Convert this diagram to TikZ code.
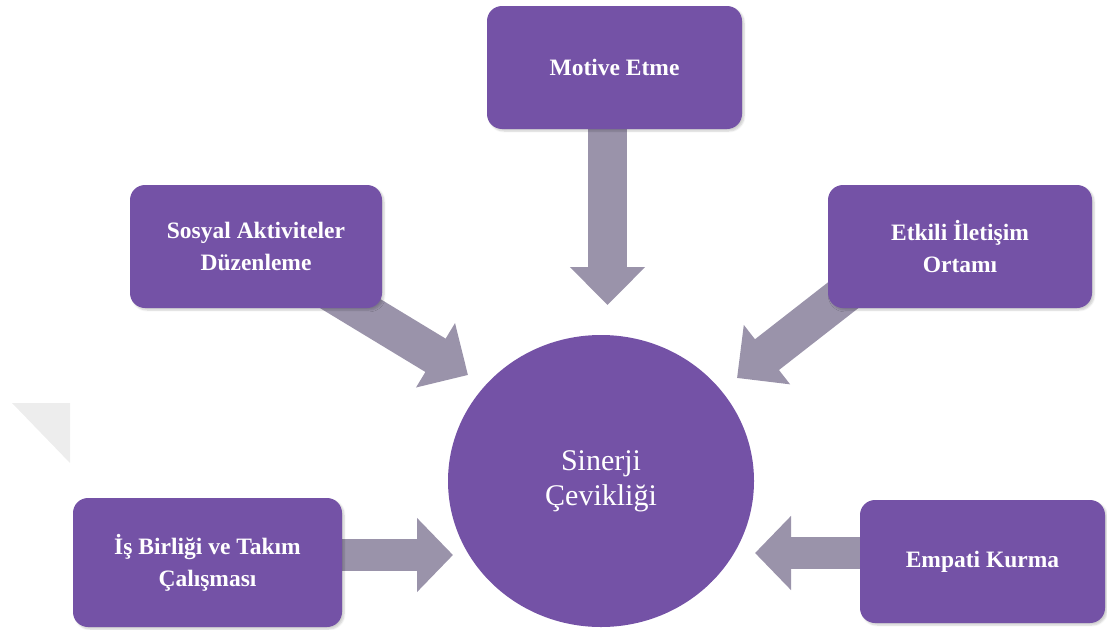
\documentclass[tikz,border=0pt]{standalone}
\usepackage{fontspec}
\setmainfont{Liberation Serif}
\usetikzlibrary{arrows.meta,shapes.geometric,shadows.blur}
\definecolor{boxpurple}{HTML}{7452A6}
\definecolor{arrowgray}{HTML}{9A93AA}
\definecolor{markgray}{HTML}{EDEDED}
\pgfdeclarelayer{background}
\pgfsetlayers{background,main}
\tikzset{
  topic/.style={fill=boxpurple, rounded corners=15pt, text=white,
    font=\bfseries\fontsize{23.5}{32}\selectfont, align=center, inner sep=0pt,
    blur shadow={shadow xshift=2pt, shadow yshift=-2pt, shadow opacity=20, shadow blur steps=6}},
  hub/.style={ellipse, fill=boxpurple, text=white,
    font=\fontsize{30}{35}\selectfont, align=center, inner sep=0pt,
    minimum width=306pt, minimum height=292pt},
  widearrow/.style={draw=arrowgray, line width=39pt, -{Triangle[length=38pt,width=73pt]}},
  flatarrow/.style={draw=arrowgray, line width=32pt, -{Triangle[length=36pt,width=72pt]}},
}
\begin{document}
\begin{tikzpicture}[x=1pt, y=-1pt]
  \useasboundingbox (0,0) rectangle (1107,629);

  % surrounding topics
  \node[topic, minimum width=255pt, minimum height=123pt] (motive) at (614.5,67.5) {Motive Etme};
  \node[topic, minimum width=252pt, minimum height=123pt] (sosyal) at (256,246.5) {Sosyal Aktiviteler\\Düzenleme};
  \node[topic, minimum width=264pt, minimum height=123pt] (etkili) at (960,246.5) {Etkili İletişim\\Ortamı};
  \node[topic, minimum width=269pt, minimum height=129pt] (isbirligi) at (207.5,562.5) {İş Birliği ve Takım\\Çalışması};
  \node[topic, minimum width=245pt, minimum height=123pt] (empati) at (982.5,561.5) {Empati Kurma};

  % central hub
  \node[hub] (sinerji) at (601,481) {Sinerji\\Çevikliği};

  % arrow tips near the hub
  \coordinate (tipM) at (607.5,305);
  \coordinate (tipS) at (468,375);
  \coordinate (tipE) at (737,378);
  \coordinate (tipI) at (453,555);
  \coordinate (tipP) at (755,553);

  \begin{pgfonlayer}{background}
    \fill[markgray] (12,403) -- (70,403) -- (70,463) -- cycle;
    \draw[widearrow] (motive.center -| tipM) -- (tipM);
    \draw[widearrow] (sosyal.center) -- (tipS);
    \draw[widearrow] ([shift={(-80,20)}]etkili.center) -- (tipE);
    \draw[flatarrow] (isbirligi.center |- tipI) -- (tipI);
    \draw[flatarrow] (empati.center |- tipP) -- (tipP);
  \end{pgfonlayer}
\end{tikzpicture}
\end{document}
